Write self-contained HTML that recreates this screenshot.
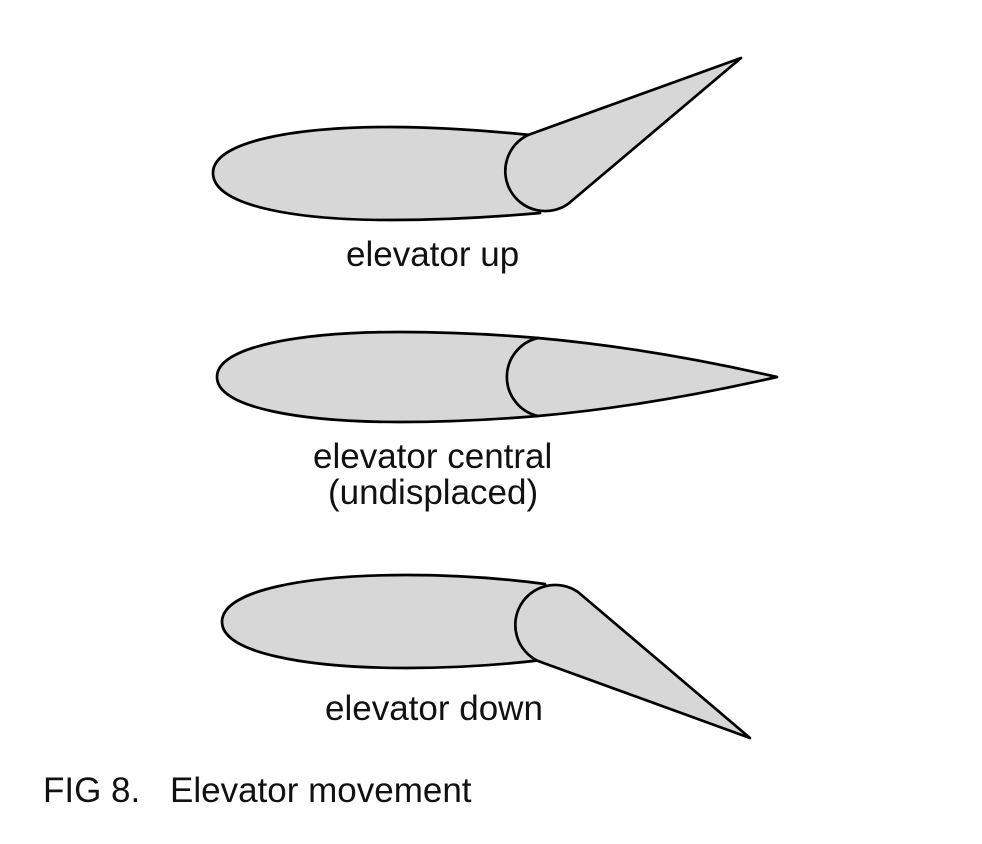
<!DOCTYPE html>
<html>
<head>
<meta charset="utf-8">
<style>
  html, body { margin: 0; padding: 0; background: #ffffff; }
  svg { display: block; }
  text { font-family: "Liberation Sans", Arial, sans-serif; font-size: 35px; fill: #111; }
</style>
</head>
<body>
<svg width="982" height="844" viewBox="0 0 982 844" xmlns="http://www.w3.org/2000/svg">
  <rect width="982" height="844" fill="#ffffff"/>
  <g fill="#d7d7d7" stroke="#000" stroke-width="2.7" stroke-linejoin="round">
    <!-- Top: elevator up -->
    <path d="M 530,135 C 480,130 430,127 390,127 C 292,127 213,142 213,173 C 213,205 292,220 390,220 C 440,220 495,217 540,213 Z"/>
    <path d="M 528,135 A 40 40 0 1 0 568,204 L 741,58 Z"/>

    <!-- Middle: elevator central -->
    <path d="M 538,338 C 490,334 440,332 400,332 C 302,332 217,346 217,377 C 217,408 302,422 400,422 C 440,422 490,420 538,416 Z"/>
    <path d="M 538,338 A 40 40 0 0 0 538,416 Q 650,406 777,377 Q 650,348 538,338 Z"/>

    <!-- Bottom: elevator down -->
    <path d="M 545,584 C 500,578 450,575 407,575 C 307,575 222,590 222,622 C 222,653 307,668 407,668 C 450,668 500,665 542,660 Z"/>
    <path d="M 578,592 A 40 40 0 1 0 538,661 L 750,738 Z"/>
  </g>

  <text x="346" y="266">elevator up</text>
  <text x="313" y="468">elevator central</text>
  <text x="328" y="504">(undisplaced)</text>
  <text x="325" y="720">elevator down</text>
  <text x="43" y="802">FIG 8.</text>
  <text x="170" y="802">Elevator movement</text>
</svg>
</body>
</html>
